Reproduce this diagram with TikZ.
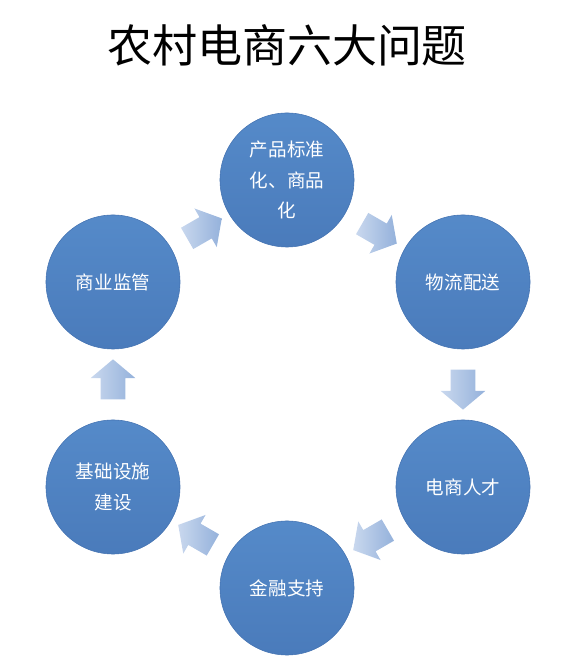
\documentclass[tikz,border=0pt]{standalone}
\usepackage{fontspec}
\setmainfont{Noto Sans CJK SC}
\usetikzlibrary{shapes.arrows,calc}
\definecolor{balltop}{HTML}{558AC9}
\definecolor{ballbot}{HTML}{4A7BBB}
\definecolor{ballrim}{HTML}{4473B2}
\definecolor{arrlight}{HTML}{C9D8EE}
\definecolor{arrdark}{HTML}{94B1DB}

\begin{document}
\begin{tikzpicture}[x=0.025cm, y=0.025cm]
\tikzset{issue/.style={circle, minimum size=3.35cm, inner sep=0pt, align=center, top color=balltop, bottom color=ballbot, draw=ballrim, line width=0.4pt, text=white, font=\fontsize{13.2}{22}\selectfont},
  flow/.style={single arrow, single arrow head extend=0.25cm, single arrow tip angle=100, minimum height=1.0cm, inner sep=0.3cm, left color=arrlight, right color=arrdark, draw=none}}
\useasboundingbox (0,0) rectangle (576,662);

% title
\node[font=\fontsize{32}{36}\selectfont] (title) at (287,617) {农村电商六大问题};

% the six problems
\node[issue] (top) at (287,482) {产品标准\\化、商品\\化};
\node[issue] (rt)  at (463,380) {物流配送};
\node[issue] (rb)  at (463,175) {电商人才};
\node[issue] (bot) at (287,74)  {金融支持};
\node[issue] (lb)  at (113,175) {基础设施\\建设};
\node[issue] (lt)  at (113,380) {商业监管};

% cycle arrows
\node[flow, rotate=30]  (a1) at ($(lt)!0.5!(top)$) {};
\node[flow, rotate=-30] (a2) at ($(top)!0.5!(rt)$) {};
\node[flow, rotate=-90] (a3) at ($(rt)!0.5!(rb)$) {};
\node[flow, rotate=210] (a4) at ($(rb)!0.5!(bot)$) {};
\node[flow, rotate=150] (a5) at ($(bot)!0.5!(lb)$) {};
\node[flow, rotate=90]  (a6) at ($(lb)!0.5!(lt)$) {};
\end{tikzpicture}
\end{document}
